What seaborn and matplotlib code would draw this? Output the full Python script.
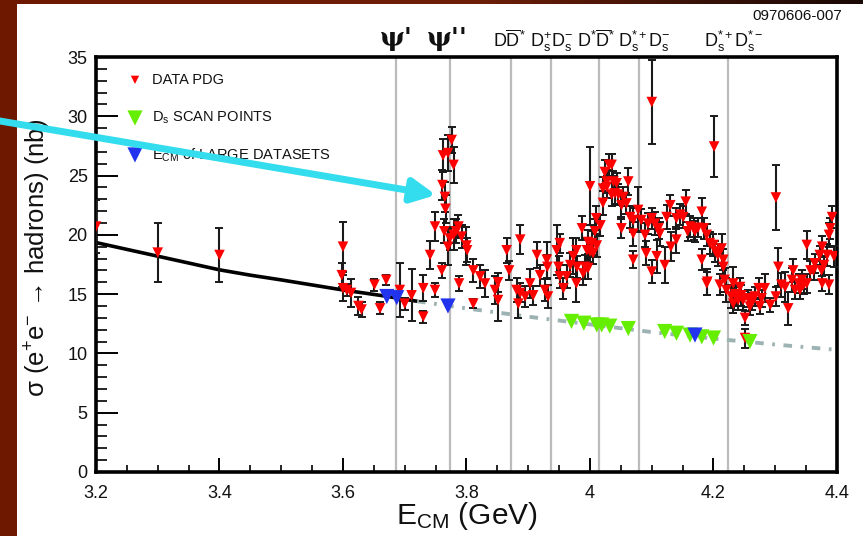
import numpy as np
import pandas as pd
import matplotlib
matplotlib.use("Agg")
import matplotlib.pyplot as plt
import seaborn as sns
from matplotlib.patches import Rectangle
from matplotlib.colors import LinearSegmentedColormap
from matplotlib.ticker import MultipleLocator, FixedLocator
import matplotlib.transforms as mtransforms

# ---------------- data ----------------
# R-scan cross sections (PDG compilation): energy (GeV), sigma (nb), error (nb)
pdg_e = [3.200, 3.300, 3.400, 3.600, 3.598, 3.600, 3.606, 3.613, 3.625, 3.630,
         3.651, 3.660, 3.670, 3.692, 3.700, 3.711, 3.730, 3.730, 3.741, 3.749,
         3.749, 3.760, 3.761, 3.762, 3.765, 3.766, 3.764, 3.770, 3.776, 3.779,
         3.770, 3.773, 3.779, 3.783, 3.787, 3.792, 3.800, 3.801, 3.788, 3.811,
         3.811, 3.822, 3.830, 3.846, 3.851, 3.851, 3.865, 3.869, 3.881, 3.884,
         3.887, 3.887, 3.895, 3.903, 3.908, 3.914, 3.919, 3.927, 3.930, 3.931,
         3.932, 3.946, 3.951, 3.949, 3.951, 3.957, 3.962, 3.968, 3.973, 3.978,
         3.979, 3.978, 3.987, 3.989, 3.995, 3.997, 4.000, 4.003, 4.005, 4.008,
         4.010, 4.011, 4.017, 4.021, 4.021, 4.024, 4.027, 4.031, 4.035, 4.027,
         4.038, 4.043, 4.035, 4.040, 4.046, 4.051, 4.059, 4.062, 4.054, 4.065,
         4.070, 4.051, 4.070, 4.070, 4.078, 4.083, 4.089, 4.091, 4.094, 4.100,
         4.100, 4.100, 4.105, 4.111, 4.108, 4.113, 4.121, 4.124, 4.130, 4.131,
         4.140, 4.140, 4.146, 4.151, 4.155, 4.162, 4.168, 4.170, 4.181, 4.181,
         4.184, 4.189, 4.189, 4.190, 4.194, 4.200, 4.201, 4.203, 4.207, 4.210,
         4.213, 4.216, 4.216, 4.221, 4.229, 4.232, 4.232, 4.237, 4.243, 4.248,
         4.251, 4.251, 4.256, 4.259, 4.267, 4.273, 4.275, 4.278, 4.283, 4.292,
         4.301, 4.301, 4.305, 4.310, 4.316, 4.321, 4.327, 4.329, 4.332, 4.338,
         4.340, 4.343, 4.346, 4.351, 4.351, 4.357, 4.362, 4.364, 4.372, 4.375,
         4.376, 4.376, 4.379, 4.384, 4.387, 4.387, 4.389, 4.392, 4.395, 3.997,
         4.000, 3.992, 4.235, 4.240, 4.245, 4.262, 4.218, 4.158, 4.175]
pdg_sigma = [20.7, 18.5, 18.3, 19.0, 16.6, 15.5, 15.35, 15.1, 14.0, 13.7,
             15.8, 13.8, 16.2, 15.35, 14.2, 14.9, 15.5, 13.1, 18.3, 20.7,
             15.35, 17.0, 24.2, 26.7, 23.2, 22.2, 20.3, 26.9, 28.0, 25.9,
             19.0, 19.7, 20.0, 20.3, 20.7, 19.85, 19.1, 18.7, 15.9, 17.0,
             14.2, 16.5, 15.9, 15.35, 16.0, 14.5, 18.7, 17.0, 15.35, 14.2,
             19.6, 15.1, 14.8, 15.9, 14.9, 18.3, 16.6, 15.35, 17.9, 17.3,
             14.8, 18.7, 19.3, 17.3, 16.5, 15.5, 16.5, 17.45, 18.2, 18.7,
             17.3, 15.9, 20.55, 16.75, 18.7, 17.2, 24.1, 19.3, 18.45, 20.3,
             21.4, 19.1, 20.8, 22.7, 23.9, 25.3, 24.5, 25.9, 25.9, 24.05,
             24.5, 24.35, 23.4, 23.5, 23.4, 22.5, 22.65, 24.5, 23.2, 21.5,
             21.25, 20.55, 20.1, 17.9, 22.1, 21.25, 20.0, 18.45, 20.95, 21.4,
             16.9, 31.2, 20.95, 20.55, 18.2, 20.1, 17.45, 21.5, 22.5, 19.0,
             19.6, 21.4, 21.7, 21.5, 22.8, 20.7, 20.5, 20.3, 21.95, 17.9,
             20.55, 20.0, 15.9, 16.05, 19.3, 19.15, 27.45, 18.6, 18.3, 15.8,
             18.85, 17.9, 17.3, 15.35, 14.8, 15.9, 14.2, 14.8, 15.6, 14.5,
             13.0, 11.3, 14.65, 13.95, 14.8, 15.5, 14.0, 14.65, 15.5, 14.1,
             23.15, 14.8, 17.3, 15.8, 15.6, 13.8, 16.2, 17.0, 15.35, 15.9,
             15.35, 16.2, 15.8, 15.9, 19.15, 17.0, 17.0, 17.6, 18.3, 17.0,
             19.0, 15.9, 17.45, 18.3, 20.0, 15.8, 20.55, 21.5, 18.2, 19.4,
             18.6, 17.3, 15.0, 14.5, 14.9, 14.4, 16.2, 20.3, 20.6]
pdg_err = [2.2, 2.5, 2.3, 2.1, 1.0, 1.1, 0.5, 1.2, 0.8, 0.6,
           0.5, 0.5, 0.4, 2.3, 0.5, 2.2, 1.1, 0.5, 1.2, 1.2,
           0.6, 0.6, 1.3, 1.4, 1.3, 1.2, 1.0, 1.5, 1.1, 1.5,
           1.5, 1.0, 1.3, 1.0, 1.0, 1.0, 1.6, 1.0, 0.6, 1.0,
           0.4, 1.0, 1.1, 1.2, 0.8, 1.8, 1.05, 0.8, 1.0, 1.2,
           1.2, 0.8, 0.9, 1.2, 0.8, 1.1, 0.9, 0.9, 1.5, 1.0,
           1.0, 2.1, 0.8, 0.9, 1.0, 0.9, 1.0, 1.0, 1.5, 1.0,
           0.9, 1.6, 1.0, 1.0, 1.0, 0.9, 3.3, 1.0, 0.9, 1.0,
           1.0, 1.0, 0.9, 1.0, 1.0, 1.0, 1.0, 0.9, 0.9, 0.9,
           0.9, 0.9, 1.0, 0.9, 0.9, 1.0, 0.9, 1.1, 0.8, 0.9,
           1.0, 0.8, 1.0, 0.7, 1.9, 0.9, 1.0, 1.0, 0.9, 0.9,
           1.0, 3.55, 1.0, 0.9, 1.4, 1.0, 1.5, 1.0, 0.9, 1.2,
           1.1, 0.9, 0.9, 0.9, 1.0, 0.9, 0.9, 0.9, 1.2, 0.9,
           0.9, 0.9, 1.0, 1.1, 0.9, 0.9, 2.6, 0.9, 0.9, 0.9,
           1.2, 0.9, 0.9, 1.0, 1.0, 1.4, 0.8, 0.8, 0.8, 0.8,
           0.6, 0.8, 0.7, 0.7, 0.8, 0.9, 0.7, 0.7, 1.2, 0.6,
           2.75, 0.8, 1.6, 1.0, 1.3, 1.4, 1.0, 1.0, 0.8, 0.8,
           0.8, 0.8, 0.8, 0.8, 1.2, 0.8, 0.8, 0.8, 0.8, 0.8,
           0.9, 0.6, 0.8, 0.9, 1.0, 0.8, 0.9, 0.9, 0.9, 1.0,
           0.9, 1.0, 0.8, 0.8, 0.9, 0.7, 1.0, 0.8, 0.8]

# Ds scan points
scan_e = [3.970, 3.990, 4.011, 4.019, 4.032, 4.062, 4.121, 4.140, 4.162, 4.181, 4.200, 4.259]
scan_sigma = [12.7, 12.55, 12.4, 12.4, 12.3, 12.1, 11.85, 11.7, 11.55, 11.4, 11.3, 11.0]

# E_CM of large datasets
large_e = [3.671, 3.687, 3.770, 4.170]
large_sigma = [14.8, 14.7, 14.0, 11.55]

# Continuum curves
cont_low_e = [3.20, 3.30, 3.40, 3.45, 3.50, 3.60, 3.66, 3.72]
cont_low_sigma = [19.35, 18.2, 17.05, 16.6, 16.2, 15.35, 14.9, 14.4]
cont_high_e = [3.72, 3.80, 3.90, 4.00, 4.10, 4.20, 4.30, 4.40]
cont_high_sigma = [14.4, 13.8, 13.1, 12.45, 11.8, 11.25, 10.75, 10.3]

# Resonances and open-charm thresholds (GeV)
threshold_e = [3.686, 3.773, 3.872, 3.937, 4.014, 4.080, 4.224]
threshold_labels = ["ψ'", "ψ''",
                    r"D$\overline{\rm D}^{*}$",
                    r"D$_{\rm s}^{+}$D$_{\rm s}^{-}$",
                    r"D$^{*}\overline{\rm D}^{*}$",
                    r"D$_{\rm s}^{*+}$D$_{\rm s}^{-}$",
                    r"D$_{\rm s}^{*+}$D$_{\rm s}^{*-}$"]
label_offset = [0.0, -0.004, -0.002, 0.0, -0.004, 0.008, 0.008]

x_ticks = [3.2, 3.4, 3.6, 3.8, 4.0, 4.2, 4.4]
x_tick_labels = ["3.2", "3.4", "3.6", "3.8", "4", "4.2", "4.4"]
y_ticks = [0, 5, 10, 15, 20, 25, 30, 35]

# ---------------- style ----------------
sns.set_theme(style="white")
plt.rcParams['font.family'] = ['Liberation Sans', 'DejaVu Sans']
plt.rcParams['mathtext.fontset'] = 'custom'
plt.rcParams['mathtext.rm'] = 'Liberation Sans'
plt.rcParams['mathtext.it'] = 'Liberation Sans:italic'
plt.rcParams['mathtext.bf'] = 'Liberation Sans:bold'
plt.rcParams['mathtext.sf'] = 'Liberation Sans'

W, H = 863, 536
fig = plt.figure(figsize=(W / 100, H / 100), dpi=100, facecolor='#6E1800')

# white slide panel
fig.patches.append(Rectangle((17 / W, 0), 1, (H - 4) / H, transform=fig.transFigure,
                             facecolor='white', edgecolor='none', zorder=-5))
# dark gradient strip along the top edge
strip = fig.add_axes([0, (H - 4) / H, 1, 4 / H])
cmap_strip = LinearSegmentedColormap.from_list(
    'strip', [(0, '#6E1800'), (0.55, '#6E1E06'), (0.8, '#3A1208'), (1.0, '#1A0804')])
strip.imshow(np.linspace(0, 1, 256)[None, :], aspect='auto', cmap=cmap_strip)
strip.set_axis_off()

ax = fig.add_axes([96 / W, 64 / H, 741 / W, 415 / H])
ax.set_facecolor('white')

# threshold lines
for e in threshold_e:
    ax.axvline(e, color='#BBBBBB', lw=1.6, zorder=1)

# continuum curves
sns.lineplot(x=cont_low_e, y=cont_low_sigma, color='black', lw=2.6, ax=ax,
             sort=False, estimator=None, zorder=2)
sns.lineplot(x=cont_high_e, y=cont_high_sigma, color='#9DB2B2', lw=2.8, ax=ax,
             sort=False, estimator=None, zorder=2, linestyle=(0, (2.2, 2.2, 0.7, 2.2)))

# PDG data with error bars
pdg = pd.DataFrame({'E': pdg_e, 'sigma': pdg_sigma, 'err': pdg_err})
ax.errorbar(pdg['E'], pdg['sigma'], yerr=pdg['err'], fmt='none', ecolor='#1A1A1A',
            elinewidth=1.5, capsize=2.8, capthick=1.4, zorder=3)
sns.scatterplot(data=pdg, x='E', y='sigma', marker='v', color='#FF0000', s=58,
                edgecolor='none', linewidth=0, ax=ax, zorder=4)

scan = pd.DataFrame({'E': scan_e, 'sigma': scan_sigma})
sns.scatterplot(data=scan, x='E', y='sigma', marker='v', color='#66EE00', s=120,
                edgecolor='none', linewidth=0, ax=ax, zorder=5)
large = pd.DataFrame({'E': large_e, 'sigma': large_sigma})
sns.scatterplot(data=large, x='E', y='sigma', marker='v', color='#2233EE', s=120,
                edgecolor='none', linewidth=0, ax=ax, zorder=6)

# axes
ax.set_xlim(3.2, 4.4)
ax.set_ylim(0, 35)
ax.xaxis.set_major_locator(FixedLocator(x_ticks))
ax.set_xticklabels(x_tick_labels)
ax.xaxis.set_minor_locator(MultipleLocator(0.05))
ax.yaxis.set_major_locator(FixedLocator(y_ticks))
ax.yaxis.set_minor_locator(MultipleLocator(1))
for sp in ax.spines.values():
    sp.set_visible(True)
    sp.set_color('black')
    sp.set_linewidth(2.6)
ax.tick_params(axis='both', which='both', direction='in', color='black',
               labelsize=13, labelcolor='#111111')
ax.tick_params(axis='y', which='major', length=16, width=1.4, pad=6)
ax.tick_params(axis='y', which='minor', length=8, width=1.2)
ax.tick_params(axis='x', which='major', length=10, width=1.4, pad=9)
ax.tick_params(axis='x', which='minor', length=5, width=1.2)
ax.tick_params(left=True, bottom=True, right=False, top=False, which='both')

ax.set_xlabel(r"E$_{\rm CM}$ (GeV)", fontsize=21.5, color='#111111')
ax.set_ylabel("σ (e$^{+}$e$^{-}$ → hadrons) (nb)", fontsize=18.5, color='#111111')
ax.xaxis.set_label_coords(0.5, -0.068)
ax.yaxis.set_label_coords(-0.058, 0.515)

# legend drawn inside the frame
leg_y = [0.945, 0.853, 0.764]
ax.scatter([0.0526], [leg_y[0]], marker='v', s=36, color='#FF0000', transform=ax.transAxes,
           edgecolor='none', zorder=7)
ax.scatter([0.0526], [leg_y[1]], marker='v', s=120, color='#66EE00', transform=ax.transAxes,
           edgecolor='none', zorder=7)
ax.scatter([0.0526], [leg_y[2]], marker='v', s=120, color='#2233EE', transform=ax.transAxes,
           edgecolor='none', zorder=7)
leg_text = ["DATA PDG", r"D$_{\rm s}$ SCAN POINTS", r"E$_{\rm CM}$ of LARGE DATASETS"]
for yy, t in zip(leg_y, leg_text):
    ax.text(0.0756, yy, t, transform=ax.transAxes, fontsize=10.5, va='center', ha='left',
            color='#111111', zorder=7)

# labels above threshold lines
trans = mtransforms.blended_transform_factory(ax.transData, ax.transAxes)
for i, (e, lab) in enumerate(zip(threshold_e, threshold_labels)):
    if i < 2:
        ax.text(e + label_offset[i], 1.027, lab, transform=trans, ha='center', va='baseline',
                fontsize=19, fontweight='bold', family=['DejaVu Serif'], color='#111111',
                clip_on=False)
    else:
        ax.text(e + label_offset[i], 1.024, lab, transform=trans, ha='center', va='baseline',
                fontsize=13, color='#111111', clip_on=False)

fig.text(842 / W, 1 - 16 / H, "0970606-007", ha='right', va='center', fontsize=11,
         color='#111111')

# highlight arrow
ax.annotate('', xy=(436 / W, 1 - 195 / H), xytext=(0, 1 - 121 / H),
            xycoords='figure fraction', textcoords='figure fraction',
            arrowprops=dict(arrowstyle='-|>,head_length=1.2,head_width=0.6',
                            lw=5, color='#33DDEE', shrinkA=0, shrinkB=0),
            annotation_clip=False, zorder=20)

fig.savefig('out.png', dpi=100, facecolor=fig.get_facecolor())
